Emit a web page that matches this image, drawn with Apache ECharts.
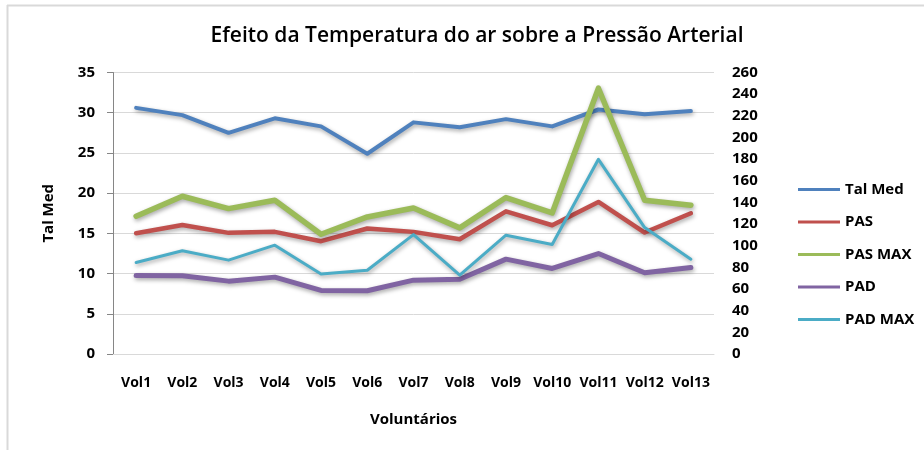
<!DOCTYPE html>
<html>
<head>
<meta charset="utf-8">
<script src="https://cdn.jsdelivr.net/npm/echarts@6/dist/echarts.min.js"></script>
<style>html,body{margin:0;padding:0;background:#fff}#c{width:924px;height:450px}</style>
</head>
<body>
<div id="c"></div>
<script>
const categories = ['Vol1','Vol2','Vol3','Vol4','Vol5','Vol6','Vol7','Vol8','Vol9','Vol10','Vol11','Vol12','Vol13'];
const talMed = [30.6, 29.7, 27.5, 29.3, 28.3, 24.9, 28.8, 28.2, 29.2, 28.3, 30.4, 29.8, 30.2];
const pas    = [111.6, 119.2, 111.9, 112.8, 104.2, 115.9, 112.8, 106.0, 131.8, 118.9, 140.4, 112.2, 130.0];
const pasMax = [127.2, 145.7, 134.3, 142.0, 110.6, 126.6, 134.9, 116.5, 144.5, 130.3, 245.5, 142.0, 137.4];
const pad    = [72.5, 72.2, 67.3, 71.0, 58.7, 58.4, 68.2, 69.1, 87.6, 79.0, 92.8, 75.0, 79.9];
const padMax = [84.5, 95.3, 86.7, 100.5, 73.8, 77.4, 110.3, 72.8, 109.7, 101.1, 179.8, 116.8, 87.6];
const leftTicks = {min: 0, max: 35, interval: 5};
const rightTicks = {min: 0, max: 260, interval: 20};

const FONT = 'Open Sans';
const shadow = {shadowColor: 'rgba(0,0,0,0.35)', shadowBlur: 4, shadowOffsetY: 2, shadowOffsetX: 1};
function mk(name, data, color, width, yIdx) {
  return {
    name, type: 'line', data, yAxisIndex: yIdx,
    symbol: 'none', showSymbol: false, smooth: false,
    lineStyle: Object.assign({color, width, cap: 'round', join: 'round'}, shadow),
    itemStyle: {color},
    z: 2
  };
}
const chart = echarts.init(document.getElementById('c'), null, {renderer: 'canvas'});
chart.setOption({
  animation: false,
  backgroundColor: '#fff',
  title: {
    text: 'Efeito da Temperatura do ar sobre a Pressão Arterial',
    left: 472, top: 21, textAlign: 'center',
    textStyle: {fontFamily: FONT, fontSize: 21, fontWeight: 600, color: '#000'}
  },
  graphic: [
    {type: 'line', shape: {x1: 7, y1: 5.5, x2: 924, y2: 5.5}, style: {stroke: '#d9d9d9', lineWidth: 2}},
    {type: 'line', shape: {x1: 7.5, y1: 5, x2: 7.5, y2: 450}, style: {stroke: '#d9d9d9', lineWidth: 2}}
  ],
  legend: {
    orient: 'vertical', left: 793, top: 174,
    itemWidth: 42, itemHeight: 3, itemGap: 11.5,
    icon: 'rect',
    textStyle: {fontFamily: FONT, fontSize: 15, fontWeight: 'bold', color: '#000', lineHeight: 21},
    data: ['Tal Med','PAS','PAS MAX','PAD','PAD MAX']
  },
  grid: {left: 113, right: 210, top: 72.5, bottom: 96},
  xAxis: {
    type: 'category', data: categories, boundaryGap: true,
    name: 'Voluntários', nameLocation: 'middle', nameGap: 58,
    nameTextStyle: {fontFamily: FONT, fontSize: 15, fontWeight: 'bold', color: '#000'},
    axisLine: {lineStyle: {color: '#d9d9d9', width: 1}},
    axisTick: {show: false},
    axisLabel: {interval: 0, margin: 22, fontFamily: FONT, fontSize: 14, fontWeight: 'bold', color: '#000'}
  },
  yAxis: [
    {
      type: 'value', min: leftTicks.min, max: leftTicks.max, interval: leftTicks.interval,
      name: 'Tal Med', nameLocation: 'middle', nameGap: 57, nameRotate: 90,
      nameTextStyle: {fontFamily: FONT, fontSize: 15, fontWeight: 'bold', color: '#000'},
      axisLine: {show: true, lineStyle: {color: '#868686'}},
      axisTick: {show: true, inside: false, length: 6, lineStyle: {color: '#868686'}},
      axisLabel: {margin: 18, fontFamily: FONT, fontSize: 15, fontWeight: 'bold', color: '#000'},
      splitLine: {show: true, lineStyle: {color: '#d9d9d9', width: 1}}
    },
    {
      type: 'value', min: rightTicks.min, max: rightTicks.max, interval: rightTicks.interval,
      position: 'right',
      axisLine: {show: false}, axisTick: {show: false},
      axisLabel: {margin: 18, fontFamily: FONT, fontSize: 15, fontWeight: 'bold', color: '#000'},
      splitLine: {show: false}
    }
  ],
  series: [
    mk('Tal Med', talMed, '#4F81BD', 4, 0),
    mk('PAS', pas, '#C0504D', 4.5, 1),
    mk('PAS MAX', pasMax, '#9BBB59', 5.5, 1),
    mk('PAD', pad, '#8064A2', 5, 1),
    mk('PAD MAX', padMax, '#4BACC6', 3, 1)
  ]
});
</script>
</body>
</html>
